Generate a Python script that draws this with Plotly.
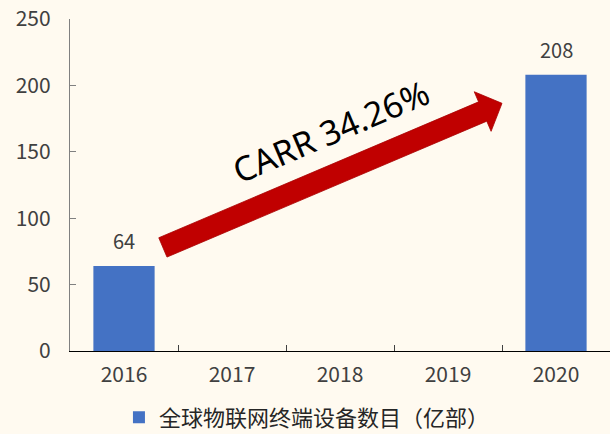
import math
import plotly.graph_objects as go

# ---- data -------------------------------------------------------------
years = ["2016", "2017", "2018", "2019", "2020"]
devices = [64, None, None, None, 208]          # 全球物联网终端设备数目（亿部）
series_name = "全球物联网终端设备数目（亿部）"
growth_label = "CARR 34.26%"
y_ticks = [0, 50, 100, 150, 200, 250]

# ---- geometry ---------------------------------------------------------
W, H = 610, 434
M_L, M_R, M_T, M_B = 70, 0, 19, 83
X_RANGE = [-0.5, 4.5]
Y_RANGE = [0, 250]
FONT = "Noto Sans CJK SC"
BG = "#FFFAF0"

plot_w = W - M_L - M_R
plot_h = H - M_T - M_B


def to_px(xi, yv):
    px = M_L + (xi - X_RANGE[0]) / (X_RANGE[1] - X_RANGE[0]) * plot_w
    py = M_T + (1 - (yv - Y_RANGE[0]) / (Y_RANGE[1] - Y_RANGE[0])) * plot_h
    return px, py


def to_paper(px, py):
    return (px - M_L) / plot_w, (M_T + plot_h - py) / plot_h


fig = go.Figure()
fig.add_trace(go.Bar(
    x=years, y=devices, name=series_name,
    marker=dict(color="#4472C4", line=dict(width=0)),
    showlegend=True,
))

# value labels above the bars (x given as category index)
for i, v in enumerate(devices):
    if v is not None:
        fig.add_annotation(
            x=i, y=v, xref="x", yref="y", text=str(v), showarrow=False,
            yanchor="bottom", yshift=9,
            font=dict(family=FONT, size=20, color="#404040"),
        )

# growth arrow from the 2016 level towards the 2020 level
tail = to_px(0.36, 78)
tip = to_px(3.5, 186.5)
dx, dy = tip[0] - tail[0], tip[1] - tail[1]
length = math.hypot(dx, dy)
ux, uy = dx / length, dy / length
nx, ny = -uy, ux
shaft_hw, head_hw, head_len = 10.5, 21.5, 21
bx, by = tip[0] - ux * head_len, tip[1] - uy * head_len
pts = [
    (tail[0] + nx * shaft_hw, tail[1] + ny * shaft_hw),
    (bx + nx * shaft_hw, by + ny * shaft_hw),
    (bx + nx * head_hw, by + ny * head_hw),
    tip,
    (bx - nx * head_hw, by - ny * head_hw),
    (bx - nx * shaft_hw, by - ny * shaft_hw),
    (tail[0] - nx * shaft_hw, tail[1] - ny * shaft_hw),
]
path = "M " + " L ".join("{:.4f},{:.4f}".format(*to_paper(*p)) for p in pts) + " Z"
fig.add_shape(type="path", path=path, xref="paper", yref="paper",
              fillcolor="#C00000", line=dict(color="#A80000", width=0.8),
              layer="above")

angle = math.degrees(math.atan2(-dy, dx))
tx, ty = to_paper(331, 131)
fig.add_annotation(
    x=tx, y=ty, xref="paper", yref="paper", text=growth_label,
    showarrow=False, textangle=-angle, xanchor="center", yanchor="middle",
    font=dict(family="Noto Sans", size=34, color="#000000"),
)

fig.update_layout(
    width=W, height=H,
    margin=dict(l=M_L, r=M_R, t=M_T, b=M_B, pad=0, autoexpand=False),
    paper_bgcolor=BG, plot_bgcolor=BG,
    bargap=0.433,
    font=dict(family=FONT, color="#404040"),
    showlegend=True,
    legend=dict(
        orientation="h", xref="container", yref="container",
        x=0.195, xanchor="left", y=0.038, yanchor="middle",
        font=dict(family=FONT, size=22, color="#262626"),
        bgcolor="rgba(0,0,0,0)", itemwidth=30,
    ),
    xaxis=dict(
        type="category", range=X_RANGE,
        showline=True, linecolor="#000000", linewidth=1.2,
        ticks="inside", tickson="boundaries", ticklen=6,
        tickcolor="#404040", tickwidth=1,
        tickfont=dict(family=FONT, size=21, color="#404040"),
        ticklabelstandoff=5,
        showgrid=False, zeroline=False, fixedrange=True,
    ),
    yaxis=dict(
        range=Y_RANGE, tickvals=y_ticks,
        showline=True, linecolor="#808080", linewidth=1.2,
        ticks="inside", ticklen=6, tickcolor="#808080", tickwidth=1,
        tickfont=dict(family=FONT, size=21, color="#404040"),
        ticklabelstandoff=14,
        showgrid=False, zeroline=False, fixedrange=True,
    ),
)

fig.write_html("out.html")
